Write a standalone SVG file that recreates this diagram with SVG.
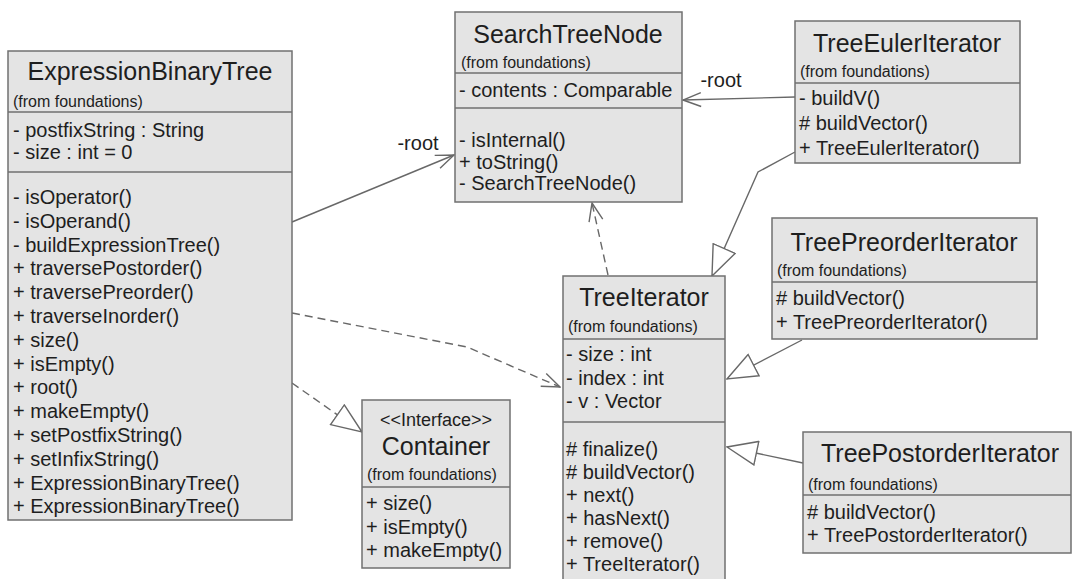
<svg xmlns="http://www.w3.org/2000/svg" width="1074" height="579" viewBox="0 0 1074 579">
<style>
text{font-family:"Liberation Sans",Arial,sans-serif;fill:#1e1e1e}
.box{fill:#e4e4e4;stroke:#707070;stroke-width:1.5}
.sep{stroke:#707070;stroke-width:1.5}
.title{font-size:25px;text-anchor:middle}
.from{font-size:16px}
.m{font-size:20px}
.st{font-size:18px;text-anchor:middle}
.lbl{font-size:20px;text-anchor:middle}
.conn{fill:none;stroke:#686868;stroke-width:1.4}
.dash{stroke-dasharray:8,5}
.open{marker-end:url(#openArrow)}
.tri{marker-end:url(#hollowTri)}
</style>
<defs>
<marker id="openArrow" viewBox="0 0 20 16" markerWidth="20" markerHeight="16" refX="19" refY="8" markerUnits="userSpaceOnUse" orient="auto">
<path d="M1,1 L19,8 L1,15" fill="none" stroke="#686868" stroke-width="1.4"/>
</marker>
<marker id="hollowTri" viewBox="0 0 32 26" markerWidth="32" markerHeight="26" refX="31" refY="13" markerUnits="userSpaceOnUse" orient="auto">
<path d="M1,1 L31,13 L1,25 Z" fill="#ffffff" stroke="#686868" stroke-width="1.4"/>
</marker>
</defs>
<rect x="0" y="0" width="1074" height="579" fill="#ffffff"/>

<g id="connectors">
<path class="conn open" d="M292,222 L454,155"/>
<text class="lbl" x="418" y="150">-root</text>
<path class="conn open" d="M795,97 L683,100"/>
<text class="lbl" x="721" y="87">-root</text>
<path class="conn dash open" d="M608,275 L592,203"/>
<path class="conn dash open" d="M292,313 L467,347 L560,387"/>
<path class="conn dash tri" d="M292,383 L362,432"/>
<path class="conn tri" d="M795,152 L758,172 L712,276"/>
<path class="conn tri" d="M802,340 L727,379"/>
<path class="conn tri" d="M803,463 L727,447"/>
</g>

<g id="ExpressionBinaryTree">
<rect class="box" x="8" y="51" width="284" height="469"/>
<text class="title" x="150" y="80">ExpressionBinaryTree</text>
<text class="from" x="13" y="107">(from foundations)</text>
<line class="sep" x1="8" y1="112" x2="292" y2="112"/>
<text class="m" x="13" y="137">- postfixString : String</text>
<text class="m" x="13" y="159">- size : int = 0</text>
<line class="sep" x1="8" y1="172" x2="292" y2="172"/>
<text class="m" x="13" y="204">- isOperator()</text>
<text class="m" x="13" y="228">- isOperand()</text>
<text class="m" x="13" y="252">- buildExpressionTree()</text>
<text class="m" x="13" y="275">+ traversePostorder()</text>
<text class="m" x="13" y="299">+ traversePreorder()</text>
<text class="m" x="13" y="323">+ traverseInorder()</text>
<text class="m" x="13" y="347">+ size()</text>
<text class="m" x="13" y="371">+ isEmpty()</text>
<text class="m" x="13" y="394">+ root()</text>
<text class="m" x="13" y="418">+ makeEmpty()</text>
<text class="m" x="13" y="442">+ setPostfixString()</text>
<text class="m" x="13" y="466">+ setInfixString()</text>
<text class="m" x="13" y="490">+ ExpressionBinaryTree()</text>
<text class="m" x="13" y="513">+ ExpressionBinaryTree()</text>
</g>

<g id="SearchTreeNode">
<rect class="box" x="455" y="12" width="227" height="190"/>
<text class="title" x="568" y="43">SearchTreeNode</text>
<text class="from" x="461" y="68">(from foundations)</text>
<line class="sep" x1="455" y1="73" x2="682" y2="73"/>
<text class="m" x="459" y="97">- contents : Comparable</text>
<line class="sep" x1="455" y1="108" x2="682" y2="108"/>
<text class="m" x="459" y="147">- isInternal()</text>
<text class="m" x="459" y="169">+ toString()</text>
<text class="m" x="459" y="190">- SearchTreeNode()</text>
</g>

<g id="TreeEulerIterator">
<rect class="box" x="795" y="21" width="225" height="142"/>
<text class="title" x="907" y="52">TreeEulerIterator</text>
<text class="from" x="800" y="77">(from foundations)</text>
<line class="sep" x1="795" y1="83" x2="1020" y2="83"/>
<text class="m" x="799" y="105">- buildV()</text>
<text class="m" x="799" y="130"># buildVector()</text>
<text class="m" x="799" y="155">+ TreeEulerIterator()</text>
</g>

<g id="TreeIterator">
<rect class="box" x="563" y="276" width="162" height="310"/>
<text class="title" x="644" y="306">TreeIterator</text>
<text class="from" x="568" y="332">(from foundations)</text>
<line class="sep" x1="563" y1="339" x2="725" y2="339"/>
<text class="m" x="566" y="361">- size : int</text>
<text class="m" x="566" y="385">- index : int</text>
<text class="m" x="566" y="408">- v : Vector</text>
<line class="sep" x1="563" y1="422" x2="725" y2="422"/>
<text class="m" x="566" y="456"># finalize()</text>
<text class="m" x="566" y="479"># buildVector()</text>
<text class="m" x="566" y="502">+ next()</text>
<text class="m" x="566" y="525">+ hasNext()</text>
<text class="m" x="566" y="548">+ remove()</text>
<text class="m" x="566" y="571">+ TreeIterator()</text>
</g>

<g id="TreePreorderIterator">
<rect class="box" x="772" y="218" width="265" height="121"/>
<text class="title" x="904" y="251">TreePreorderIterator</text>
<text class="from" x="777" y="276">(from foundations)</text>
<line class="sep" x1="772" y1="282" x2="1037" y2="282"/>
<text class="m" x="776" y="305"># buildVector()</text>
<text class="m" x="776" y="329">+ TreePreorderIterator()</text>
</g>

<g id="TreePostorderIterator">
<rect class="box" x="803" y="432" width="268" height="121"/>
<text class="title" x="940" y="462">TreePostorderIterator</text>
<text class="from" x="808" y="490">(from foundations)</text>
<line class="sep" x1="803" y1="495" x2="1071" y2="495"/>
<text class="m" x="807" y="519"># buildVector()</text>
<text class="m" x="807" y="542">+ TreePostorderIterator()</text>
</g>

<g id="Container">
<rect class="box" x="362" y="400" width="148" height="168"/>
<text class="st" x="436" y="426">&lt;&lt;Interface&gt;&gt;</text>
<text class="title" x="436" y="455">Container</text>
<text class="from" x="367" y="480">(from foundations)</text>
<line class="sep" x1="362" y1="487" x2="510" y2="487"/>
<text class="m" x="366" y="510">+ size()</text>
<text class="m" x="366" y="534">+ isEmpty()</text>
<text class="m" x="366" y="557">+ makeEmpty()</text>
</g>
</svg>
